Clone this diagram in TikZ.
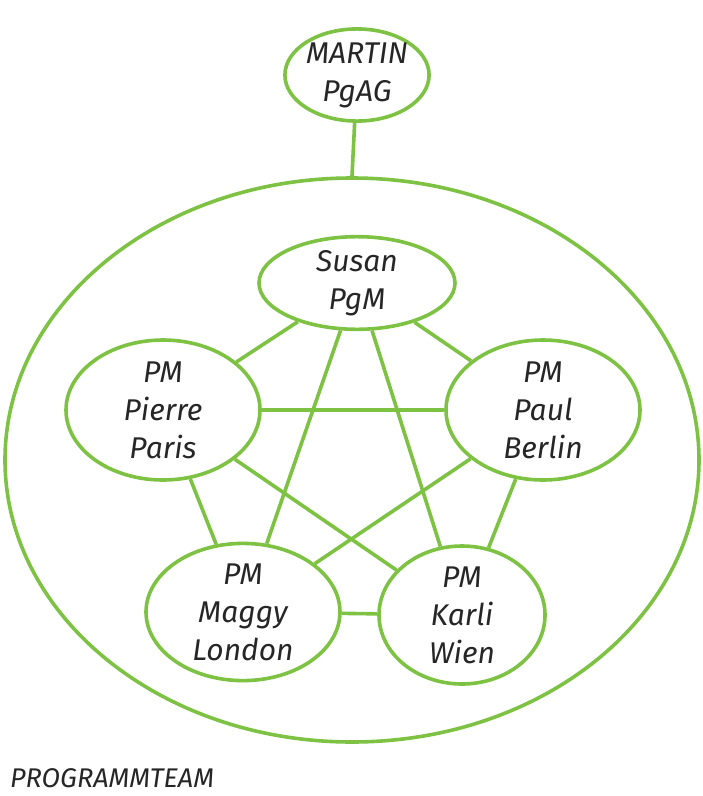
\documentclass[tikz,border=0pt]{standalone}
\usepackage{fontspec}
\setmainfont{Fira Sans}
\usetikzlibrary{shapes.geometric}

\definecolor{teamgreen}{HTML}{7DC242}

\begin{document}
\begin{tikzpicture}[
    x=1pt, y=-1pt,
    person/.style ={ellipse, draw=teamgreen, line width=3.6pt, inner sep=0pt,
                    align=center, text=black!85, font=\fontsize{30}{38}\selectfont\itshape},
    teamring/.style={ellipse, draw=teamgreen, line width=3.6pt, inner sep=0pt},
    link/.style    ={draw=teamgreen, line width=3.6pt}
]
\useasboundingbox (0,0) rectangle (703,796);

% ---------- programme team ----------
\node[teamring, minimum width=694pt, minimum height=564pt] (team) at (352,460) {};
\node[anchor=base west, inner sep=0pt, text=black!85,
      font=\fontsize{27}{32}\selectfont\itshape] (teamlabel)
    at (10,787) {PROGRAMMTEAM};

% ---------- people ----------
\node[person, minimum width=128pt, minimum height=90pt] (martin) at (357,75) {MARTIN\\PgAG};
\node[person, minimum width=196pt, minimum height=80pt] (susan)  at (357,283) {Susan\\PgM};
\node[person, minimum width=194pt, minimum height=140pt] (pierre) at (163,410) {PM\\Pierre\\Paris};
\node[person, minimum width=194pt, minimum height=140pt] (paul)   at (543,410) {PM\\Paul\\Berlin};
\node[person, minimum width=194pt, minimum height=136pt] (maggy)  at (243,612) {PM\\Maggy\\London};
\node[person, minimum width=166pt, minimum height=138pt] (karli)  at (462,615) {PM\\Karli\\Wien};

% ---------- links ----------
\draw[link] (martin) -- (team.north);
\foreach \a/\b in {susan/pierre, susan/paul, susan/maggy, susan/karli,
                   pierre/paul, pierre/maggy, pierre/karli,
                   paul/maggy, paul/karli, maggy/karli}
    \draw[link] (\a) -- (\b);

\end{tikzpicture}
\end{document}
